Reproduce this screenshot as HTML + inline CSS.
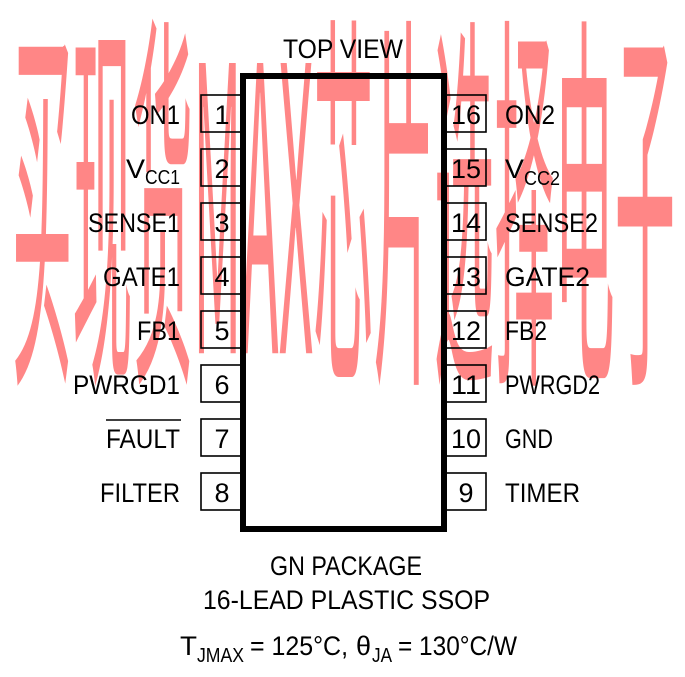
<!DOCTYPE html>
<html><head><meta charset="utf-8"><style>
html,body{margin:0;padding:0;background:#fff;}
svg{display:block;}
text{font-family:"Liberation Sans Narrow","Liberation Sans",sans-serif;fill:#000;}
</style></head><body>
<svg width="685" height="677" viewBox="0 0 685 677" xmlns="http://www.w3.org/2000/svg">
<rect x="243" y="76" width="201" height="453" fill="none" stroke="#000" stroke-width="6"/>
<g fill="none" stroke="#000" stroke-width="1.6">
<rect x="201" y="95" width="40" height="37"/>
<rect x="201" y="149" width="40" height="37"/>
<rect x="201" y="203" width="40" height="37"/>
<rect x="201" y="257" width="40" height="37"/>
<rect x="201" y="311" width="40" height="37"/>
<rect x="201" y="365" width="40" height="37"/>
<rect x="201" y="419" width="40" height="37"/>
<rect x="201" y="473" width="40" height="37"/>
<rect x="446" y="95" width="40" height="37"/>
<rect x="446" y="149" width="40" height="37"/>
<rect x="446" y="203" width="40" height="37"/>
<rect x="446" y="257" width="40" height="37"/>
<rect x="446" y="311" width="40" height="37"/>
<rect x="446" y="365" width="40" height="37"/>
<rect x="446" y="419" width="40" height="37"/>
<rect x="446" y="473" width="40" height="37"/>
</g>
<g font-size="27">
<text x="343" y="58" textLength="120" lengthAdjust="spacingAndGlyphs" text-anchor="middle">TOP VIEW</text>
<g text-anchor="middle">
<text x="222" y="124">1</text><text x="222" y="178">2</text><text x="222" y="232">3</text><text x="222" y="286">4</text>
<text x="222" y="340">5</text><text x="222" y="394">6</text><text x="222" y="448">7</text><text x="222" y="502">8</text>
<text x="466" y="124" textLength="30" lengthAdjust="spacingAndGlyphs">16</text>
<text x="466" y="178" textLength="30" lengthAdjust="spacingAndGlyphs">15</text>
<text x="466" y="232" textLength="30" lengthAdjust="spacingAndGlyphs">14</text>
<text x="466" y="286" textLength="30" lengthAdjust="spacingAndGlyphs">13</text>
<text x="466" y="340" textLength="30" lengthAdjust="spacingAndGlyphs">12</text>
<text x="466" y="394" textLength="30" lengthAdjust="spacingAndGlyphs">11</text>
<text x="466" y="448" textLength="30" lengthAdjust="spacingAndGlyphs">10</text>
<text x="466" y="502">9</text>
</g>
<text x="131" y="124" textLength="49" lengthAdjust="spacingAndGlyphs">ON1</text>
<text x="126" y="178" textLength="19" lengthAdjust="spacingAndGlyphs">V</text>
<text x="145" y="184" font-size="20" textLength="35" lengthAdjust="spacingAndGlyphs">CC1</text>
<text x="88" y="232" textLength="92" lengthAdjust="spacingAndGlyphs">SENSE1</text>
<text x="103" y="286" textLength="77" lengthAdjust="spacingAndGlyphs">GATE1</text>
<text x="137" y="340" textLength="43" lengthAdjust="spacingAndGlyphs">FB1</text>
<text x="73" y="394" textLength="107" lengthAdjust="spacingAndGlyphs">PWRGD1</text>
<text x="106" y="448" textLength="74" lengthAdjust="spacingAndGlyphs">FAULT</text>
<line x1="106" y1="420" x2="181" y2="420" stroke="#000" stroke-width="1.5"/>
<text x="100" y="502" textLength="80" lengthAdjust="spacingAndGlyphs">FILTER</text>
<text x="505" y="124" textLength="50" lengthAdjust="spacingAndGlyphs">ON2</text>
<text x="505" y="178" textLength="19" lengthAdjust="spacingAndGlyphs">V</text>
<text x="524" y="185" font-size="20" textLength="36" lengthAdjust="spacingAndGlyphs">CC2</text>
<text x="505" y="232" textLength="93" lengthAdjust="spacingAndGlyphs">SENSE2</text>
<text x="505" y="286" textLength="85" lengthAdjust="spacingAndGlyphs">GATE2</text>
<text x="505" y="340" textLength="42" lengthAdjust="spacingAndGlyphs">FB2</text>
<text x="505" y="394" textLength="95" lengthAdjust="spacingAndGlyphs">PWRGD2</text>
<text x="505" y="448" textLength="48" lengthAdjust="spacingAndGlyphs">GND</text>
<text x="505" y="502" textLength="75" lengthAdjust="spacingAndGlyphs">TIMER</text>
<text x="270" y="575" textLength="152" lengthAdjust="spacingAndGlyphs">GN PACKAGE</text>
<text x="203" y="609" textLength="287" lengthAdjust="spacingAndGlyphs">16-LEAD PLASTIC SSOP</text>
<text x="180" y="655" textLength="17" lengthAdjust="spacingAndGlyphs">T</text>
<text x="197" y="662" font-size="20" textLength="47" lengthAdjust="spacingAndGlyphs">JMAX</text>
<text x="250" y="655" textLength="98" lengthAdjust="spacingAndGlyphs">= 125°C,</text>
<text x="356" y="655" textLength="15" lengthAdjust="spacingAndGlyphs">θ</text>
<text x="372" y="662" font-size="20" textLength="20" lengthAdjust="spacingAndGlyphs">JA</text>
<text x="398" y="655" textLength="119" lengthAdjust="spacingAndGlyphs">= 130°C/W</text>
</g>
<g style="mix-blend-mode:multiply" opacity="0.95">
<text x="12" y="52" font-size="60" style="fill:#ff8080;font-family:'Noto Sans CJK SC',sans-serif" textLength="663" lengthAdjust="spacingAndGlyphs" transform="translate(0,10) scale(1,6.6)">买现货MAX芯片选择电子</text>
</g>
</svg>
</body></html>
